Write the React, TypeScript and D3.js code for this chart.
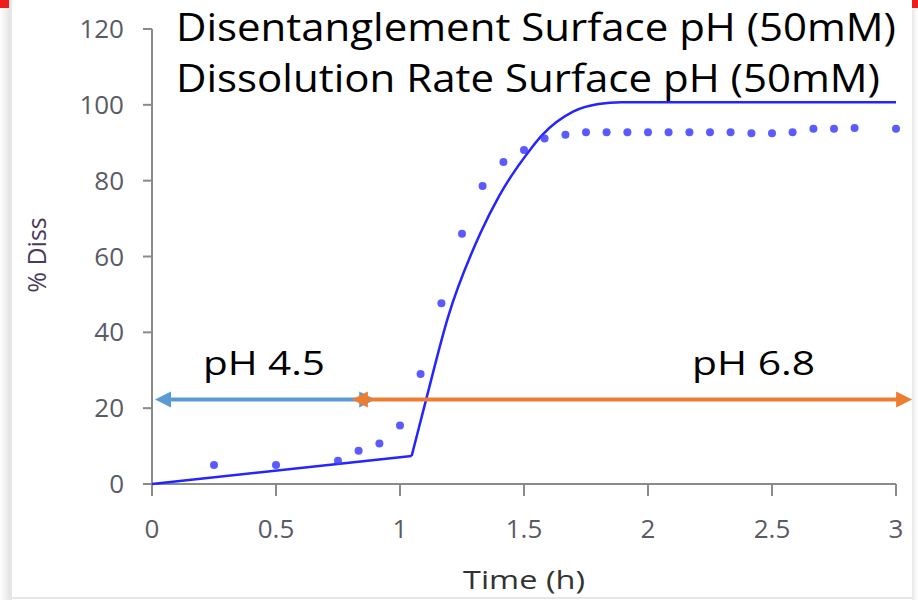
import React from "react";
import * as d3 from "d3";

const xTicks = [0, 0.5, 1, 1.5, 2, 2.5, 3];
const yTicks = [0, 20, 40, 60, 80, 100, 120];

// observed dissolution (dots)
const obsTime = [0.25, 0.5, 0.75, 0.833, 0.917, 1.0, 1.083, 1.167, 1.25, 1.333, 1.417, 1.5, 1.583, 1.667,
  1.75, 1.833, 1.917, 2.0, 2.083, 2.167, 2.25, 2.333, 2.417, 2.5, 2.583, 2.667, 2.75, 2.833, 3.0];
const obsDiss = [5.0, 5.0, 6.1, 8.8, 10.7, 15.4, 29.0, 47.7, 66.0, 78.6, 84.9, 88.1, 91.1, 92.1,
  92.8, 92.8, 92.8, 92.8, 92.8, 92.8, 92.8, 92.8, 92.5, 92.5, 92.8, 93.7, 93.7, 93.9, 93.7];

// model (solid line): linear part then curve
const modelLinTime = [0, 1.047];
const modelLinDiss = [0, 7.4];
const modelCurveTime = [1.047, 1.105, 1.194, 1.323, 1.4, 1.524, 1.573, 1.698, 1.8, 1.893, 3.0];
const modelCurveDiss = [7.4, 22.2, 44.1, 66.0, 76.0, 88.1, 92.0, 98.2, 100.2, 100.7, 100.7];

// pH phase arrows (data units)
const phaseLabels = ["pH 4.5", "pH 6.8"];
const phaseStart = [0.012, 0.806];
const phaseEnd = [0.9, 3.065];
const phaseLevel = 22.3;

const legendLines = ["Disentanglement Surface pH (50mM)", "Dissolution Rate Surface pH (50mM)"];

export default function App() {
  const W = 918, H = 600;
  const x = d3.scaleLinear().domain([0, 3]).range([152, 896]);
  const y = d3.scaleLinear().domain([0, 120]).range([484, 29]);
  const lin = d3.line<number>().x((_, i) => x(modelLinTime[i])).y((d) => y(d));
  const cur = d3.line<number>().x((_, i) => x(modelCurveTime[i])).y((d) => y(d)).curve(d3.curveMonotoneX);
  const axisColor = "#8a8a8a";
  const tickText = "#5a5a66";
  const font = "'Open Sans', sans-serif";
  const blue = "#5B9BD5", orange = "#ED7D31";

  const arrow = (x1: number, x2: number, yy: number, col: string, key: string) => {
    const hl = 16, hw = 8, sw = 4;
    return (
      <g key={key}>
        <line x1={x1 + hl - 2} x2={x2 - hl + 2} y1={yy} y2={yy} stroke={col} strokeWidth={sw} />
        <path d={`M${x1},${yy} L${x1 + hl},${yy - hw} L${x1 + hl},${yy + hw} Z`} fill={col} />
        <path d={`M${x2},${yy} L${x2 - hl},${yy - hw} L${x2 - hl},${yy + hw} Z`} fill={col} />
      </g>
    );
  };

  return (
    <svg width={W} height={H} style={{ position: "absolute", left: 0, top: 0, background: "#fff" }}>
      <defs>
        <linearGradient id="lg" x1="0" x2="1" y1="0" y2="0">
          <stop offset="0" stopColor="#ffffff" />
          <stop offset="1" stopColor="#e4e4e4" />
        </linearGradient>
        <linearGradient id="rg" x1="0" x2="1" y1="0" y2="0">
          <stop offset="0" stopColor="#e8e8e8" />
          <stop offset="1" stopColor="#ffffff" />
        </linearGradient>
      </defs>
      {/* frame decorations */}
      <rect x={0} y={0} width={10} height={600} fill="url(#lg)" />
      <rect x={9.5} y={0} width={2.5} height={600} fill="#e6e6e6" />
      <rect x={0} y={0} width={9} height={8} fill="#ee1c1c" />
      <rect x={912} y={0} width={6} height={600} fill="url(#rg)" />
      <rect x={912} y={0} width={6} height={8} fill="#ee1c1c" />
      <rect x={10} y={597} width={902} height={2} fill="#e6e6e6" />

      {/* axes */}
      <line x1={x(0)} x2={x(0)} y1={y(120)} y2={y(0) + 12} stroke={axisColor} strokeWidth={2} />
      <line x1={x(0)} x2={x(3)} y1={y(0)} y2={y(0)} stroke={axisColor} strokeWidth={2} />
      {yTicks.map((t) => (
        <g key={"y" + t}>
          <line x1={x(0) - 9} x2={x(0)} y1={y(t)} y2={y(t)} stroke={axisColor} strokeWidth={2} />
          <text x={x(0) - 28} y={y(t) + 9} textAnchor="end" fontFamily={font} fontSize={26} fill={tickText}>{t}</text>
        </g>
      ))}
      {xTicks.map((t) => (
        <g key={"x" + t}>
          <line x1={x(t)} x2={x(t)} y1={y(0)} y2={y(0) + 12} stroke={axisColor} strokeWidth={2} />
          <text x={x(t)} y={538} textAnchor="middle" fontFamily={font} fontSize={26} fill={tickText}>{t}</text>
        </g>
      ))}
      <text x={524} y={589} textAnchor="middle" fontFamily={font} fontSize={26} fill="#333" textLength={122} lengthAdjust="spacingAndGlyphs">Time (h)</text>
      <text transform={`translate(46,255) rotate(-90)`} textAnchor="middle" fontFamily={font} fontSize={25} fill="#4a3a5a">% Diss</text>

      {/* model line */}
      <path d={lin(modelLinDiss) || ""} fill="none" stroke="#2424ff" strokeWidth={2.5} />
      <path d={cur(modelCurveDiss) || ""} fill="none" stroke="#2424ff" strokeWidth={2.5} />

      {/* observed dots */}
      {obsDiss.map((v, i) => (
        <circle key={"d" + i} cx={x(obsTime[i])} cy={y(v)} r={4} fill="#3d3dff" fillOpacity={0.85} />
      ))}

      {/* phase arrows */}
      {arrow(x(phaseStart[0]), x(phaseEnd[0]), y(phaseLevel), blue, "a0")}
      {arrow(x(phaseStart[1]), x(phaseEnd[1]), y(phaseLevel), orange, "a1")}
      <text x={203} y={375} fontFamily={font} fontSize={33} fill="#000" textLength={122} lengthAdjust="spacingAndGlyphs">{phaseLabels[0]}</text>
      <text x={692} y={375} fontFamily={font} fontSize={33} fill="#000" textLength={123} lengthAdjust="spacingAndGlyphs">{phaseLabels[1]}</text>

      {/* overlay legend text */}
      <text x={176} y={41} fontFamily={font} fontSize={39} fill="#000" textLength={720} lengthAdjust="spacingAndGlyphs">{legendLines[0]}</text>
      <text x={176} y={92} fontFamily={font} fontSize={39} fill="#000" textLength={704} lengthAdjust="spacingAndGlyphs">{legendLines[1]}</text>
    </svg>
  );
}
